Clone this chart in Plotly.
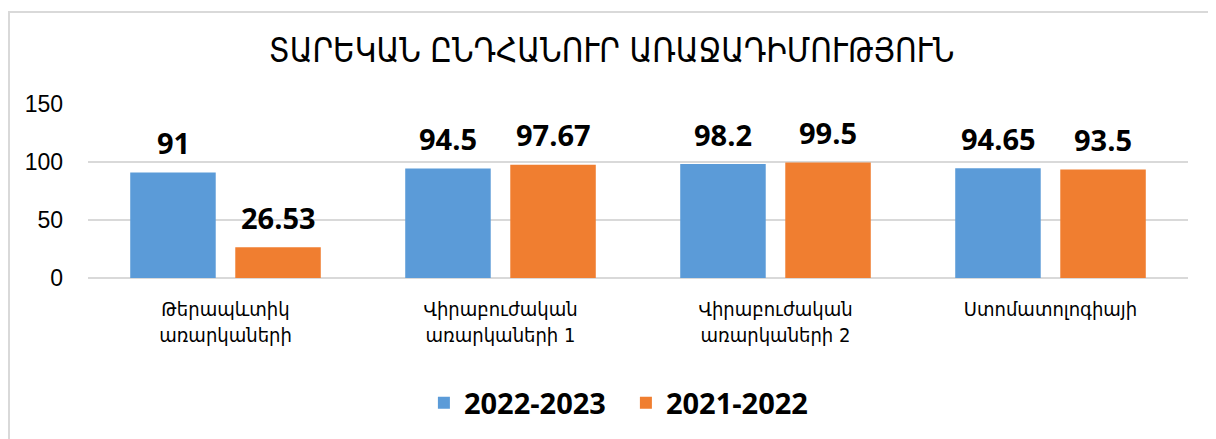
import plotly.graph_objects as go

categories = ["Թերապևտիկ<br>առարկաների", "Վիրաբուժական<br>առարկաների 1",
              "Վիրաբուժական<br>առարկաների 2", "Ստոմատոլոգիայի"]
series_names = ["2022-2023", "2021-2022"]
values_2022_2023 = [91, 94.5, 98.2, 94.65]
values_2021_2022 = [26.53, 97.67, 99.5, 93.5]
label_2022_2023 = ["91", "94.5", "98.2", "94.65"]
label_2021_2022 = ["26.53", "97.67", "99.5", "93.5"]
title_text = "ՏԱՐԵԿԱՆ ԸՆԴՀԱՆՈՒՐ ԱՌԱՋԱԴԻՄՈՒԹՅՈՒՆ"
y_ticks = [0, 50, 100, 150]

colors = ["#5b9bd8", "#f07e30"]
arm_font = "DejaVu Sans Condensed, DejaVu Sans, sans-serif"
num_font = "Open Sans, Noto Sans, DejaVu Sans, sans-serif"

W, H = 1208, 431

fig = go.Figure()
for name, vals, col in zip(series_names, [values_2022_2023, values_2021_2022], colors):
    fig.add_trace(go.Bar(x=list(range(len(categories))), y=vals, name=name,
                         marker=dict(color=col, line=dict(width=0))))

annotations = []
for vals, labs, shift in [(values_2022_2023, label_2022_2023, -52.5),
                          (values_2021_2022, label_2021_2022, 52.5)]:
    for i, (v, t) in enumerate(zip(vals, labs)):
        annotations.append(dict(x=i, y=v, xref="x", yref="y", text=t, showarrow=False,
                                xshift=shift, yshift=30, yanchor="middle",
                                font=dict(family=num_font, size=29, color="#000000",
                                          weight="bold")))

fig.update_layout(
    width=W, height=H,
    margin=dict(l=80, r=28, t=96, b=161, autoexpand=False),
    paper_bgcolor="white", plot_bgcolor="white",
    barmode="group", bargap=0.236, bargroupgap=0.186,
    title=dict(text=title_text, x=0.476, xref="paper", xanchor="center",
               y=1 - 42 / H, yanchor="middle",
               font=dict(family=arm_font, size=33, color="#000000")),
    xaxis=dict(tickmode="array", tickvals=list(range(len(categories))),
               ticktext=categories, range=[-0.5, 3.5], showgrid=False,
               showline=False, ticks="", ticklabelstandoff=17, automargin=False,
               tickfont=dict(family=arm_font, size=20, color="#000000")),
    yaxis=dict(range=[0, 150], tickvals=y_ticks, showgrid=True, gridcolor="#d9d9d9",
               gridwidth=1.5, zeroline=True, zerolinecolor="#d9d9d9", zerolinewidth=1.5,
               showline=False, ticks="", ticklabelstandoff=24, automargin=False,
               tickfont=dict(family="Liberation Sans, Arial, sans-serif", size=23,
                             color="#000000")),
    legend=dict(orientation="h", x=0.489, xanchor="center", y=-0.718, yanchor="middle",
                font=dict(family=num_font, size=29, color="#000000", weight="bold"),
                itemwidth=30, traceorder="normal", entrywidth=157),
    annotations=annotations,
    showlegend=True,
)
fig.add_shape(type="rect", xref="paper", yref="paper",
              x0=(1 - 80) / 1100, x1=(1240 - 88) / 1100,
              y0=(278 - 470) / 174, y1=(278 - 12) / 174,
              line=dict(color="#d9d9d9", width=2), fillcolor="rgba(0,0,0,0)", layer="below")

fig.write_html("out.html")
